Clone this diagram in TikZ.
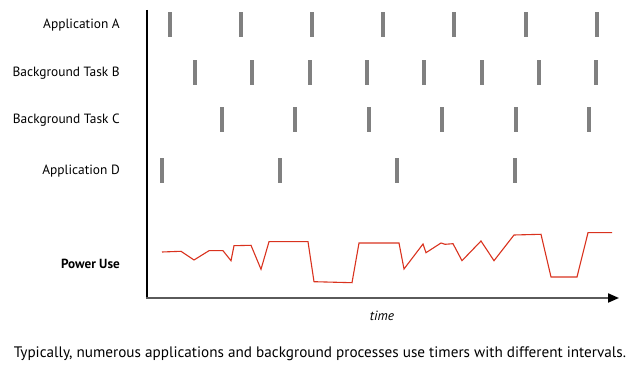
\documentclass[tikz,border=0pt]{standalone}
\usepackage{fontspec}
\setmainfont{PT Sans}
\usetikzlibrary{arrows.meta}
\definecolor{bargray}{HTML}{808080}
\definecolor{axisgray}{HTML}{5A5A5A}
\definecolor{powerred}{HTML}{D9321E}
\begin{document}
\begin{tikzpicture}[x=1pt,y=-1pt,
  bar/.style={fill=bargray,draw=none},
  rowlabel/.style={anchor=base east,inner sep=0pt,font=\fontsize{13.4}{15}\selectfont},
  powerline/.style={draw=powerred,line width=1.1pt,line join=miter}]
\useasboundingbox (0,0) rectangle (640,371);
% axes
\coordinate (origin) at (147,298);
\coordinate (ytop) at (147,10);
\coordinate (xend) at (619,298);
\draw[black,line width=1.6pt] (ytop) -- (origin);
\draw[axisgray,line width=2pt,-{Triangle[length=11pt,width=9pt,fill=black,color=black]}] ([xshift=-0.8pt]origin) -- (xend);
% labels
\node[rowlabel] (la) at (120,29) {Application A};
\node[rowlabel] (lb) at (120,76.5) {Background Task B};
\node[rowlabel] (lc) at (120,124) {Background Task C};
\node[rowlabel] (ld) at (120,175) {Application D};
\node[rowlabel,font=\fontsize{13.2}{15}\selectfont\bfseries] (lp) at (120,269) {Power Use};
\node[anchor=base,inner sep=0pt,font=\fontsize{13.4}{15}\selectfont\itshape] (time) at (382,320) {time};
\node[anchor=base,inner sep=0pt,font=\fontsize{15.2}{17}\selectfont] (caption) at (320,357) {Typically, numerous applications and background processes use timers with different intervals.};
% bars
\foreach \x in {170,241,312,383,454,526,597} \fill[bar] (\x-2,12) rectangle (\x+2,37);
\foreach \x in {195,252,310,367,424,482,539,596} \fill[bar] (\x-2,60) rectangle (\x+2,85);
\foreach \x in {222,295,369,442,516,589} \fill[bar] (\x-2,107) rectangle (\x+2,132);
\foreach \x in {162,280,397,515} \fill[bar] (\x-2,158) rectangle (\x+2,183);
% power use
\draw[powerline] (162,252) -- (181,251.3) -- (194,260) -- (209,250.7) -- (223,250.7) -- (231,260.7) -- (234,245.7) -- (251,245.3) -- (261,269.3) -- (269,241.7) -- (308,241.7) -- (314,281.7) -- (352,282.7) -- (359,243) -- (399,243) -- (404,269) -- (423,244) -- (426,252.7) -- (441,243) -- (445,244.3) -- (453,243.7) -- (462,260.7) -- (481,241) -- (494,260.7) -- (514,235) -- (541,234.3) -- (551,277) -- (577,277) -- (588,232.7) -- (612,232.7);
\end{tikzpicture}
\end{document}
